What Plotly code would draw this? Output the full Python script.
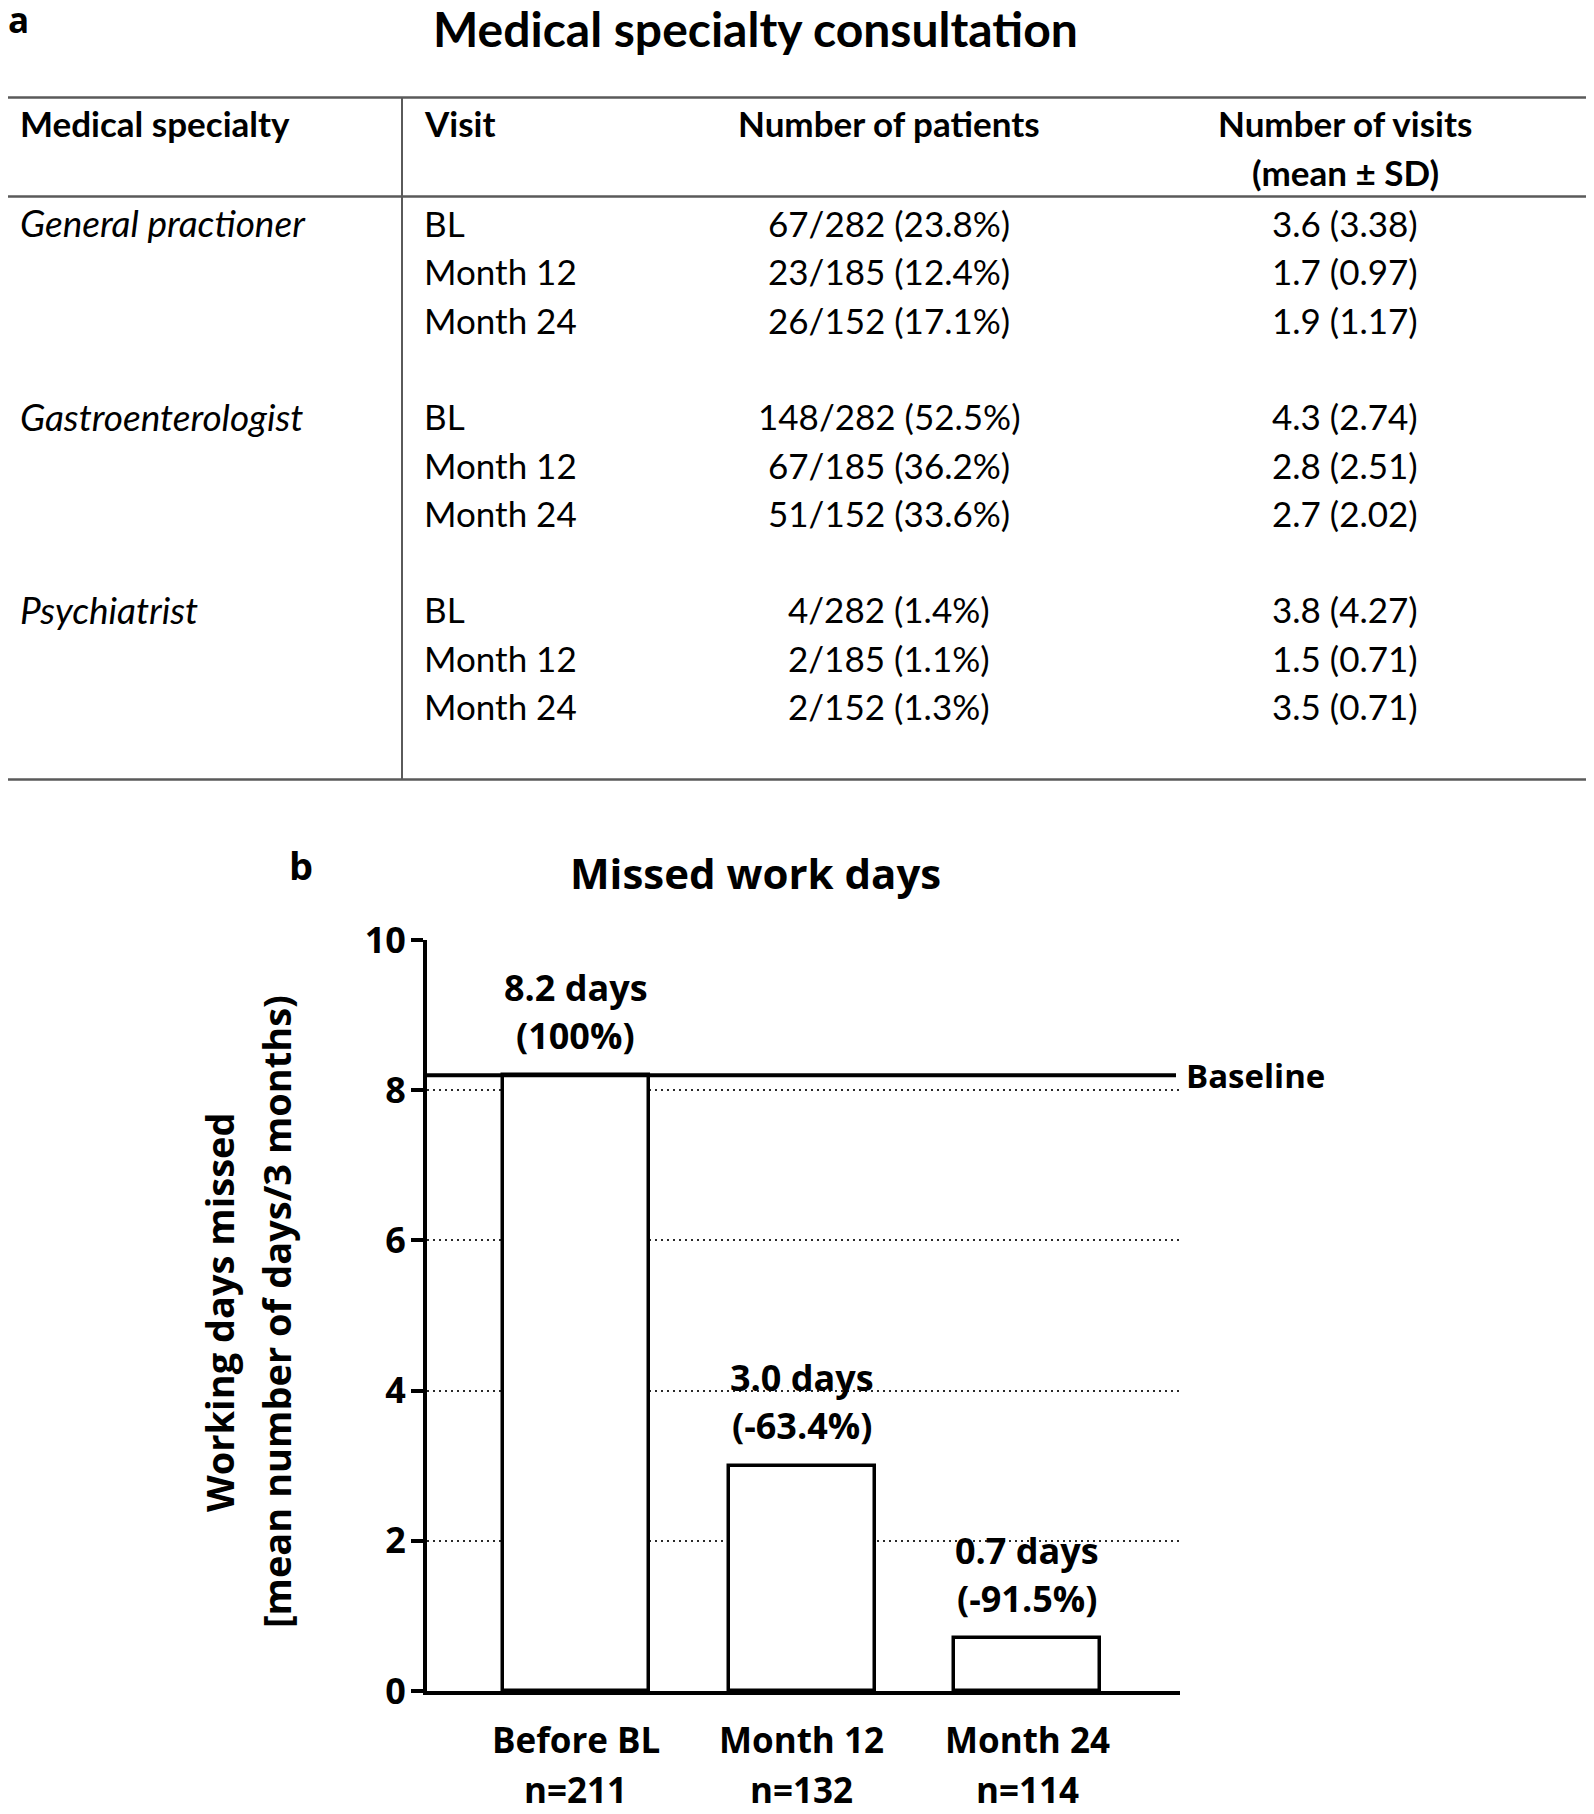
import plotly.graph_objects as go

# ---------------- Panel a data ----------------
specialties = ["General practioner", "Gastroenterologist", "Psychiatrist"]
visit_labels = ["BL", "Month 12", "Month 24"]
visit_totals = [282, 185, 152]
patients_n = [[67, 23, 26], [148, 67, 51], [4, 2, 2]]
patients_pct = [[23.8, 12.4, 17.1], [52.5, 36.2, 33.6], [1.4, 1.1, 1.3]]
visits_mean = [[3.6, 1.7, 1.9], [4.3, 2.8, 2.7], [3.8, 1.5, 3.5]]
visits_sd = [[3.38, 0.97, 1.17], [2.74, 2.51, 2.02], [4.27, 0.71, 0.71]]
header_cols = ["Medical specialty", "Visit", "Number of patients",
               "Number of visits", "(mean ± SD)"]

# ---------------- Panel b data ----------------
periods = ["Before BL", "Month 12", "Month 24"]
period_n = [211, 132, 114]
days_missed = [8.2, 3.0, 0.7]
pct_labels = ["100%", "-63.4%", "-91.5%"]
y_ticks = [0, 2, 4, 6, 8, 10]

# ---------------- geometry helpers (page pixels, body margin 8px) ----------------
W, H = 1578, 1798
OFF = 8


def X(p):
    return (p - OFF) / W


def Y(p):
    return 1 - (p - OFF) / H


FA = "Lato"
FB = "Open Sans"
BLACK = "#000000"
LINE_GRAY = "#5a5a5a"

fig = go.Figure()

# ---------------- Panel b bars ----------------
fig.add_trace(go.Bar(
    x=list(range(len(periods))), y=days_missed, width=0.647,
    marker=dict(color="white", line=dict(color=BLACK, width=3.5)),
    showlegend=False, hoverinfo="skip",
))

annotations = []
shapes = []

# ---------------- Panel a: title, label, table ----------------
annotations.append(dict(text="<b>a</b>", x=X(6), y=Y(20), xref="paper", yref="paper",
                        xanchor="left", yanchor="middle", showarrow=False,
                        font=dict(family=FB, size=35, color=BLACK)))
annotations.append(dict(text="<b>Medical specialty consultation</b>", x=X(755), y=Y(28),
                        xref="paper", yref="paper", xanchor="center", yanchor="middle",
                        showarrow=False, font=dict(family=FA, size=48, color=BLACK)))

for yy in (97.5, 196.5, 779.5):
    shapes.append(dict(type="line", xref="paper", yref="paper", x0=X(0), x1=X(1594),
                       y0=Y(yy), y1=Y(yy), line=dict(color=LINE_GRAY, width=2.5)))
shapes.append(dict(type="line", xref="paper", yref="paper", x0=X(402), x1=X(402),
                   y0=Y(97.5), y1=Y(779.5), line=dict(color=LINE_GRAY, width=2)))

hdr_font = dict(family=FA, size=35, color=BLACK)
body_font = dict(family=FA, size=35, color=BLACK)
ital_font = dict(family=FA, size=37, color=BLACK)
col_spec_x, col_visit_x, col_pat_x, col_vis_x = 18, 422, 889, 1345


def txt(s, x, y, anchor, font):
    annotations.append(dict(text=s, x=X(x), y=Y(y), xref="paper", yref="paper",
                            xanchor=anchor, yanchor="middle", showarrow=False, font=font))


txt("<b>%s</b>" % header_cols[0], col_spec_x, 123, "left", hdr_font)
txt("<b>%s</b>" % header_cols[1], col_visit_x, 123, "left", hdr_font)
txt("<b>%s</b>" % header_cols[2], col_pat_x, 123, "center", hdr_font)
txt("<b>%s</b>" % header_cols[3], col_vis_x, 123, "center", hdr_font)
txt("<b>%s</b>" % header_cols[4], col_vis_x, 172, "center", hdr_font)

row0, row_step = 223, 48.3
for g, spec in enumerate(specialties):
    base = g * 4
    txt("<i>%s</i>" % spec, col_spec_x, row0 + row_step * base, "left", ital_font)
    for k, vl in enumerate(visit_labels):
        yy = row0 + row_step * (base + k)
        txt(vl, col_visit_x, yy, "left", body_font)
        txt("%d/%d (%.1f%%)" % (patients_n[g][k], visit_totals[k], patients_pct[g][k]),
            col_pat_x, yy, "center", body_font)
        txt("%.1f (%.2f)" % (visits_mean[g][k], visits_sd[g][k]),
            col_vis_x, yy, "center", body_font)

# ---------------- Panel b annotations ----------------
bfont = dict(family=FB, size=36, color=BLACK)
cfont = dict(family=FB, size=35, color=BLACK)
annotations.append(dict(text="<b>b</b>", x=X(301), y=Y(865), xref="paper", yref="paper",
                        xanchor="center", yanchor="middle", showarrow=False,
                        font=dict(family=FB, size=38, color=BLACK)))
annotations.append(dict(text="<b>Missed work days</b>", x=X(755), y=Y(873), xref="paper",
                        yref="paper", xanchor="center", yanchor="middle", showarrow=False,
                        font=dict(family=FB, size=42, color=BLACK)))
annotations.append(dict(text="<b>Working days missed</b>", x=X(219), y=Y(1312), xref="paper",
                        yref="paper", xanchor="center", yanchor="middle", textangle=-90,
                        showarrow=False, font=dict(family=FB, size=38, color=BLACK)))
annotations.append(dict(text="<b>[mean number of days/3 months)</b>", x=X(276), y=Y(1312),
                        xref="paper", yref="paper", xanchor="center", yanchor="middle",
                        textangle=-90, showarrow=False,
                        font=dict(family=FB, size=38, color=BLACK)))

for i, v in enumerate(days_missed):
    annotations.append(dict(text="<b>%.1f days</b>" % v, x=i, y=v, xref="x", yref="y",
                            yshift=88, xanchor="center", yanchor="middle",
                            showarrow=False, font=bfont))
    annotations.append(dict(text="<b>(%s)</b>" % pct_labels[i], x=i, y=v, xref="x", yref="y",
                            yshift=40, xanchor="center", yanchor="middle",
                            showarrow=False, font=bfont))
    annotations.append(dict(text="<b>%s</b>" % periods[i], x=i, y=Y(1739.5), xref="x",
                            yref="paper", xanchor="center", yanchor="middle",
                            showarrow=False, font=cfont))
    annotations.append(dict(text="<b>n=%d</b>" % period_n[i], x=i, y=Y(1789), xref="x",
                            yref="paper", xanchor="center", yanchor="middle",
                            showarrow=False, font=cfont))

# Baseline reference line
shapes.append(dict(type="line", xref="paper", yref="y", x0=X(427), x1=X(1176),
                   y0=days_missed[0], y1=days_missed[0], line=dict(color=BLACK, width=4),
                   layer="above"))
annotations.append(dict(text="<b>Baseline</b>", x=X(1184), y=days_missed[0], xref="paper",
                        yref="y", xanchor="left", yanchor="middle", showarrow=False,
                        font=dict(family=FB, size=33, color=BLACK)))

fig.update_layout(
    template="none",
    width=W, height=H,
    margin=dict(l=0, r=0, t=0, b=0, pad=0, autoexpand=False),
    paper_bgcolor="white", plot_bgcolor="white",
    showlegend=False,
    annotations=annotations, shapes=shapes,
    xaxis=dict(domain=[X(427), X(1180)], range=[-0.66, 2.676], showgrid=False,
               zeroline=False, showline=True, linecolor=BLACK, linewidth=4,
               ticks="", showticklabels=False, fixedrange=True, automargin=False),
    yaxis=dict(domain=[Y(1691), Y(940)], range=[0, 10], tickvals=y_ticks,
               showgrid=True, gridcolor="#2a2a2a", gridwidth=1.6, griddash="2px,4px",
               zeroline=False, showline=True, linecolor=BLACK, linewidth=4,
               ticks="outside", ticklen=12, tickwidth=4, tickcolor=BLACK,
               ticklabelstandoff=-2,
               tickfont=dict(family=FB, size=36, color=BLACK, weight="bold"),
               fixedrange=True, automargin=False),
    bargap=0,
)

fig.write_html("out.html")
